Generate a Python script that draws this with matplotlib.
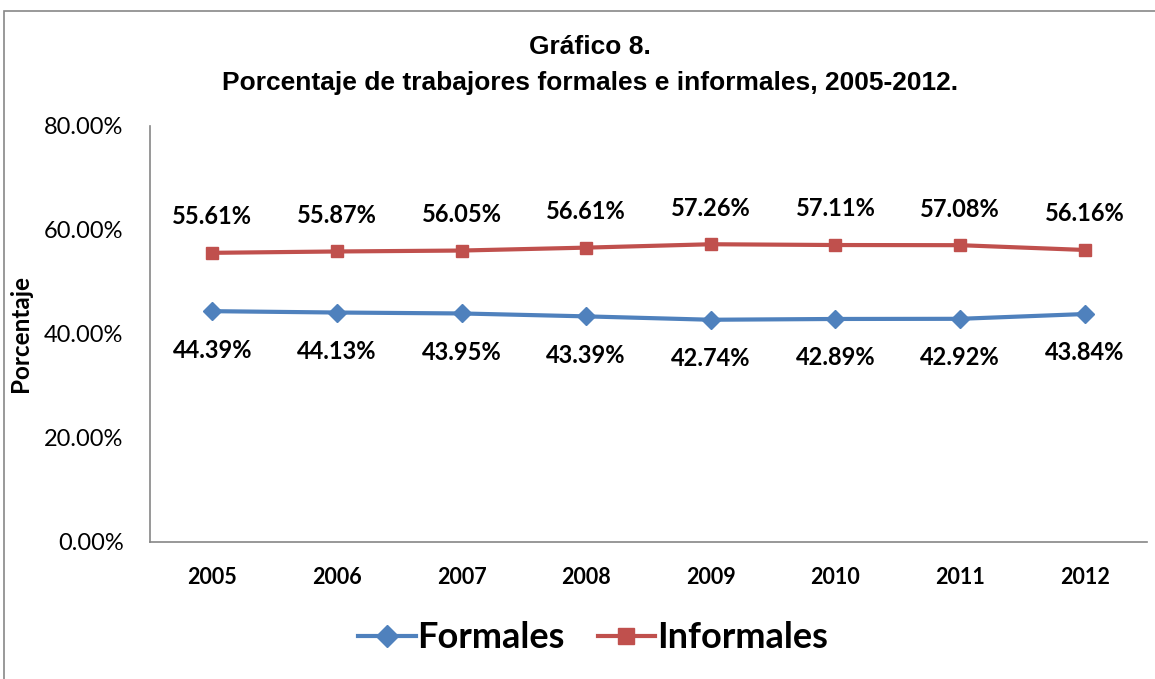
import matplotlib.pyplot as plt
from matplotlib.patches import Rectangle
import numpy as np

# data
years = ['2005', '2006', '2007', '2008', '2009', '2010', '2011', '2012']
formales = [44.39, 44.13, 43.95, 43.39, 42.74, 42.89, 42.92, 43.84]
informales = [55.61, 55.87, 56.05, 56.61, 57.26, 57.11, 57.08, 56.16]
yticks = [0, 20, 40, 60, 80]

blue = '#4F81BD'
red = '#C0504D'

W, H = 1155, 679
fig = plt.figure(figsize=(W / 100, H / 100), dpi=100)

# outer frame of the chart area
fig.patches.append(Rectangle((4 / W, -0.1), 1.2, 1 - 11 / H + 0.1, transform=fig.transFigure,
                             fill=False, edgecolor='#878787', linewidth=1.2))

ax = fig.add_axes([150 / W, 1 - 542 / H, (1147 - 150) / W, (542 - 126) / H])

x = np.arange(len(years))
ax.plot(x, formales, color=blue, lw=3, marker='D', ms=9, label='Formales', zorder=3)
ax.plot(x, informales, color=red, lw=3, marker='s', ms=9, label='Informales', zorder=3)

lab_font = dict(family='Lato', fontsize=17, fontweight='bold', color='black')
for i in range(len(years)):
    ax.annotate(f'{informales[i]:.2f}%', (x[i], informales[i]), xytext=(0, 26),
                textcoords='offset points', ha='center', va='center', **lab_font)
    ax.annotate(f'{formales[i]:.2f}%', (x[i], formales[i]), xytext=(0, -28),
                textcoords='offset points', ha='center', va='center', **lab_font)

ax.set_xlim(-0.5, len(years) - 0.5)
ax.set_ylim(0, 80)
ax.set_xticks(x)
ax.set_xticklabels(years, family='Lato', fontsize=15.5, fontweight='bold')
ax.set_yticks(yticks)
ax.set_yticklabels([f'{v:.2f}%' for v in yticks], family='Lato', fontsize=17)
ax.tick_params(length=0)
ax.tick_params(axis='x', pad=18)
ax.tick_params(axis='y', pad=19)

for s in ['top', 'right']:
    ax.spines[s].set_visible(False)
for s in ['left', 'bottom']:
    ax.spines[s].set_color('#868686')
    ax.spines[s].set_linewidth(1.2)

ax.set_ylabel('Porcentaje', family='Lato', fontsize=17.5, fontweight='bold')
ax.yaxis.set_label_coords(-118 / (1147 - 150), 0.5)

fig.text(590 / W, 1 - 47 / H, 'Gráfico 8.', ha='center', va='center',
         family='Liberation Sans', fontsize=19, fontweight='bold')
fig.text(590 / W, 1 - 83 / H, 'Porcentaje de trabajores formales e informales, 2005-2012.',
         ha='center', va='center', family='Liberation Sans', fontsize=19, fontweight='bold')

leg = fig.legend(loc='center', bbox_to_anchor=(593 / W, 1 - 638 / H), ncol=2, frameon=False,
                 prop=dict(family='Lato', size=26, weight='bold'), handlelength=1.6,
                 columnspacing=0.9, handletextpad=0.05, markerscale=1.3)

fig.savefig('out.png', dpi=100)
